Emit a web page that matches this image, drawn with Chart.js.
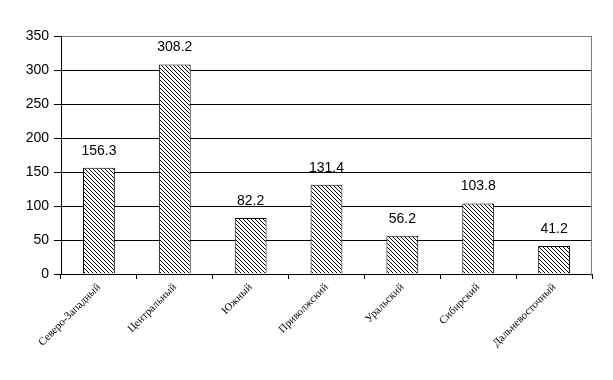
<!DOCTYPE html>
<html>
<head>
<meta charset="utf-8">
<script src="https://cdn.jsdelivr.net/npm/chart.js@4/dist/chart.umd.min.js"></script>
<style>
  html, body { margin: 0; padding: 0; background: #fff; }
  #wrap { width: 613px; height: 380px; }
</style>
</head>
<body>
<div id="wrap"><canvas id="chart"></canvas></div>
<script>
// federal districts
const regions = ['Северо-Западный', 'Центральный', 'Южный', 'Приволжский', 'Уральский', 'Сибирский', 'Дальневосточный'];
const values = [156.3, 308.2, 82.2, 131.4, 56.2, 103.8, 41.2];
const yTicks = [0, 50, 100, 150, 200, 250, 300, 350];

function hatch() {
  const c = document.createElement('canvas');
  c.width = 4;
  c.height = 4;
  const g = c.getContext('2d');
  g.fillStyle = '#fff';
  g.fillRect(0, 0, 4, 4);
  g.strokeStyle = '#000';
  g.lineWidth = 1;
  g.beginPath();
  g.moveTo(-1, -1); g.lineTo(5, 5);
  g.moveTo(-1, 3); g.lineTo(1, 5);
  g.moveTo(3, -1); g.lineTo(5, 1);
  g.stroke();
  return g.createPattern(c, 'repeat');
}

const valueLabels = {
  id: 'valueLabels',
  afterDatasetsDraw(chart) {
    const ctx = chart.ctx;
    const meta = chart.getDatasetMeta(0);
    ctx.save();
    ctx.font = '14px "Liberation Sans", Arial, sans-serif';
    ctx.fillStyle = '#000';
    ctx.textAlign = 'center';
    ctx.textBaseline = 'alphabetic';
    meta.data.forEach((bar, i) => {
      ctx.fillText(values[i].toFixed(1), bar.x, bar.y - 13);
    });
    ctx.restore();
  },
};

const frame = {
  id: 'frame',
  afterDraw(chart) {
    const { top, right, bottom } = chart.chartArea;
    const ctx = chart.ctx;
    ctx.save();
    ctx.strokeStyle = '#808080';
    ctx.lineWidth = 1;
    ctx.beginPath();
    ctx.moveTo(right - 0.5, top + 0.5);
    ctx.lineTo(right - 0.5, bottom + 2);
    ctx.stroke();
    ctx.restore();
  },
};

new Chart(document.getElementById('chart'), {
  type: 'bar',
  data: {
    labels: regions,
    datasets: [{
      data: values,
      backgroundColor: hatch(),
      borderColor: '#000',
      borderWidth: 1,
      barPercentage: 0.42,
      categoryPercentage: 1,
    }],
  },
  options: {
    responsive: true,
    maintainAspectRatio: false,
    animation: false,
    layout: { padding: { top: 36, right: 21, left: 0, bottom: 0 } },
    plugins: {
      legend: { display: false },
      tooltip: { enabled: false },
    },
    scales: {
      x: {
        offset: true,
        afterFit(scale) { scale.height = 106; },
        border: { color: '#000', width: 1 },
        grid: {
          offset: true,
          drawOnChartArea: false,
          color: '#000',
          tickLength: 5,
        },
        ticks: {
          maxRotation: 45,
          minRotation: 45,
          padding: 2,
          color: '#000',
          font: { family: '"Liberation Serif", "Times New Roman", serif', size: 11 },
        },
      },
      y: {
        min: 0,
        max: 350,
        afterFit(scale) { scale.width = 61; },
        afterBuildTicks(scale) { scale.ticks = yTicks.map(v => ({ value: v })); },
        border: { color: '#000', width: 1 },
        grid: {
          color: ctx => (ctx.tick && ctx.tick.value === 350 ? '#808080' : '#000'),
          tickColor: '#000',
          tickLength: 7,
        },
        ticks: {
          padding: 5,
          color: '#000',
          font: { family: '"Liberation Sans", Arial, sans-serif', size: 14 },
        },
      },
    },
  },
  plugins: [valueLabels, frame],
});
</script>
</body>
</html>
